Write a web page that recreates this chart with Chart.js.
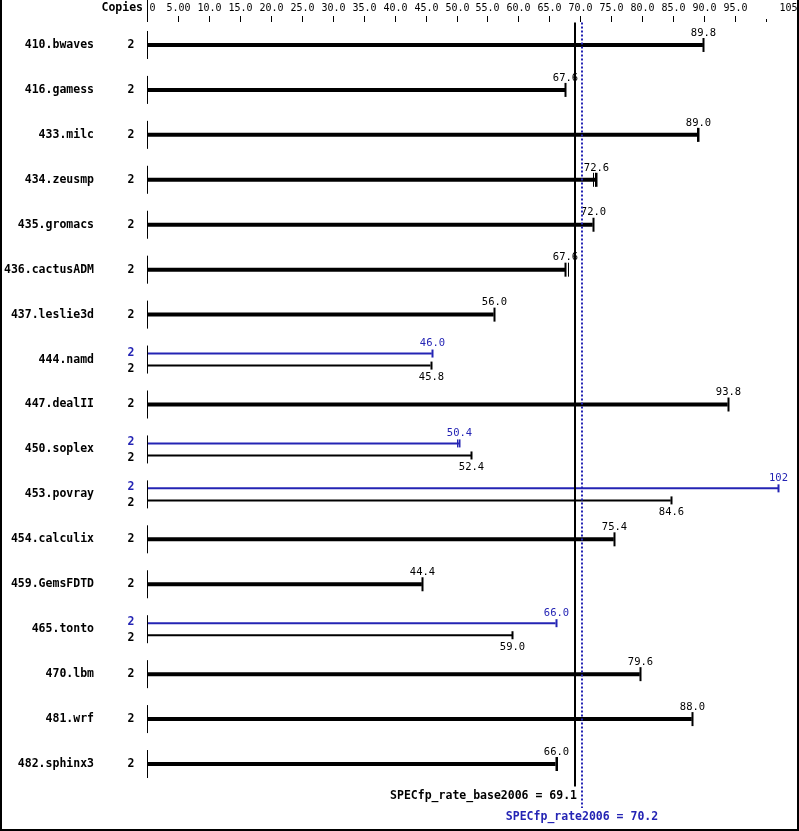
<!DOCTYPE html>
<html>
<head>
<meta charset="utf-8">
<script src="https://cdn.jsdelivr.net/npm/chart.js@4/dist/chart.umd.min.js"></script>
<style>
  html, body { margin: 0; padding: 0; background: #fff; }
  #wrap { position: relative; width: 799px; height: 831px; }
</style>
</head>
<body>
<div id="wrap"><canvas id="specChart" width="799" height="831"></canvas></div>
<script>
const benchmarks = ["410.bwaves", "416.gamess", "433.milc", "434.zeusmp", "435.gromacs",
  "436.cactusADM", "437.leslie3d", "444.namd", "447.dealII", "450.soplex", "453.povray",
  "454.calculix", "459.GemsFDTD", "465.tonto", "470.lbm", "481.wrf", "482.sphinx3"];
const copies = [2, 2, 2, 2, 2, 2, 2, 2, 2, 2, 2, 2, 2, 2, 2, 2, 2];
const baseRatio = [89.8, 67.6, 89.0, 72.6, 72.0, 67.6, 56.0, 45.8, 93.8, 52.4, 84.6,
  75.4, 44.4, 59.0, 79.6, 88.0, 66.0];
// peak only where it differs from base
const peakRatio = [null, null, null, null, null, null, null, 46.0, null, 50.4, 102,
  null, null, 66.0, null, null, null];
// other run results drawn as small marks next to the median
const extraRuns = [[], [], [88.8], [72.0, 72.3], [], [68.0], [], [], [], [50.0], [],
  [], [], [], [], [], [66.3]];
const tickValues = [0, 5, 10, 15, 20, 25, 30, 35, 40, 45, 50, 55, 60, 65, 70, 75, 80,
  85, 90, 95, 100, 105];
const tickLabels = ["0", "5.00", "10.0", "15.0", "20.0", "25.0", "30.0", "35.0", "40.0",
  "45.0", "50.0", "55.0", "60.0", "65.0", "70.0", "75.0", "80.0", "85.0", "90.0", "95.0",
  "", "105"];
const baseMean = 69.1;
const peakMean = 70.2;

const BLUE = "#2424b4";
const MONO = "\"DejaVu Sans Mono\", \"Liberation Mono\", monospace";
const PAIR_OFF = 0.134;

const datasets = [];
benchmarks.forEach((name, i) => {
  const paired = peakRatio[i] !== null;
  if (paired) {
    datasets.push({
      data: [{ x: 0, y: i - PAIR_OFF }, { x: peakRatio[i], y: i - PAIR_OFF }],
      borderColor: BLUE, borderWidth: 2
    });
    datasets.push({
      data: [{ x: 0, y: i + PAIR_OFF }, { x: baseRatio[i], y: i + PAIR_OFF }],
      borderColor: "#000", borderWidth: 2
    });
  } else {
    datasets.push({
      data: [{ x: 0, y: i }, { x: baseRatio[i], y: i }],
      borderColor: "#000", borderWidth: 4
    });
  }
});
datasets.forEach(d => {
  d.showLine = true;
  d.pointRadius = 0;
  d.borderCapStyle = "butt";
  d.fill = false;
});

const decorations = {
  id: "decorations",
  afterDatasetsDraw(chart) {
    const ctx = chart.ctx;
    const xs = chart.scales.x;
    const ys = chart.scales.y;
    const x0 = xs.getPixelForValue(0);
    const px = v => Math.round(xs.getPixelForValue(v)) + 0.5;
    ctx.save();
    ctx.textBaseline = "middle";

    // top axis
    ctx.fillStyle = "#000";
    ctx.strokeStyle = "#000";
    ctx.lineWidth = 1;
    ctx.beginPath();
    ctx.moveTo(Math.round(x0) + 0.5, 0);
    ctx.lineTo(Math.round(x0) + 0.5, 22);
    ctx.stroke();
    ctx.font = "10px " + MONO;
    tickValues.forEach((v, k) => {
      const x = px(v);
      if (v > 0) {
        ctx.beginPath();
        ctx.moveTo(x, v === 100 ? 19 : 16);
        ctx.lineTo(x, 22);
        ctx.stroke();
      }
      if (!tickLabels[k]) return;
      if (k === 0) { ctx.textAlign = "left"; ctx.fillText(tickLabels[k], x + 2, 8); }
      else if (k === tickValues.length - 1) { ctx.textAlign = "right"; ctx.fillText(tickLabels[k], x, 8); }
      else { ctx.textAlign = "center"; ctx.fillText(tickLabels[k], x, 8); }
    });
    ctx.font = "bold 11.5px " + MONO;
    ctx.textAlign = "right";
    ctx.fillText("Copies", 143, 8);

    benchmarks.forEach((name, i) => {
      const yc = ys.getPixelForValue(i);
      const paired = peakRatio[i] !== null;
      // row names and stub line
      ctx.fillStyle = "#000";
      ctx.strokeStyle = "#000";
      ctx.font = "bold 11.5px " + MONO;
      ctx.textAlign = "right";
      ctx.fillText(name, 94, yc);
      ctx.lineWidth = 1;
      ctx.beginPath();
      ctx.moveTo(Math.round(x0) + 0.5, yc - 14);
      ctx.lineTo(Math.round(x0) + 0.5, yc + 14);
      ctx.stroke();
      ctx.textAlign = "center";
      ctx.font = "10.5px " + MONO;

      if (paired) {
        const yp = ys.getPixelForValue(i - PAIR_OFF);
        const yb = ys.getPixelForValue(i + PAIR_OFF);
        ctx.font = "bold 11.5px " + MONO;
        ctx.fillStyle = BLUE;
        ctx.fillText(String(copies[i]), 131, yp - 1);
        ctx.fillStyle = "#000";
        ctx.fillText(String(copies[i]), 131, yb + 3);
        // caps
        ctx.strokeStyle = BLUE;
        ctx.lineWidth = 2;
        ctx.beginPath();
        ctx.moveTo(px(peakRatio[i]), yp - 4);
        ctx.lineTo(px(peakRatio[i]), yp + 4);
        ctx.stroke();
        ctx.strokeStyle = "#000";
        ctx.beginPath();
        ctx.moveTo(px(baseRatio[i]), yb - 4);
        ctx.lineTo(px(baseRatio[i]), yb + 4);
        ctx.stroke();
        ctx.lineWidth = 1;
        ctx.strokeStyle = BLUE;
        extraRuns[i].forEach(r => {
          ctx.beginPath();
          ctx.moveTo(px(r), yp - 4);
          ctx.lineTo(px(r), yp + 4);
          ctx.stroke();
        });
        ctx.font = "10.5px " + MONO;
        ctx.fillStyle = BLUE;
        const pv = peakRatio[i] >= 100 ? peakRatio[i].toFixed(0) : peakRatio[i].toFixed(1);
        ctx.fillText(pv, px(peakRatio[i]), yp - 10);
        ctx.fillStyle = "#000";
        ctx.fillText(baseRatio[i].toFixed(1), px(baseRatio[i]), yb + 12);
      } else {
        ctx.font = "bold 11.5px " + MONO;
        ctx.fillText(String(copies[i]), 131, yc);
        ctx.lineWidth = 2;
        ctx.beginPath();
        ctx.moveTo(px(baseRatio[i]), yc - 7);
        ctx.lineTo(px(baseRatio[i]), yc + 7);
        ctx.stroke();
        ctx.lineWidth = 1;
        extraRuns[i].forEach(r => {
          ctx.beginPath();
          ctx.moveTo(px(r), yc - 7);
          ctx.lineTo(px(r), yc + 7);
          ctx.stroke();
        });
        ctx.font = "10.5px " + MONO;
        ctx.fillText(baseRatio[i].toFixed(1), px(baseRatio[i]), yc - 12);
      }
    });

    // mean lines
    const top = chart.chartArea.top;
    ctx.strokeStyle = "#000";
    ctx.lineWidth = 2;
    ctx.beginPath();
    ctx.moveTo(Math.round(xs.getPixelForValue(baseMean)), top);
    ctx.lineTo(Math.round(xs.getPixelForValue(baseMean)), chart.chartArea.bottom);
    ctx.stroke();
    ctx.strokeStyle = BLUE;
    ctx.setLineDash([2, 2]);
    ctx.beginPath();
    ctx.moveTo(Math.round(xs.getPixelForValue(peakMean)), top);
    ctx.lineTo(Math.round(xs.getPixelForValue(peakMean)), 808);
    ctx.stroke();
    ctx.setLineDash([]);

    ctx.font = "bold 11.5px " + MONO;
    ctx.fillStyle = "#000";
    ctx.textAlign = "right";
    ctx.fillText("SPECfp_rate_base2006 = " + baseMean.toFixed(1),
      Math.round(xs.getPixelForValue(baseMean)) + 2, 796);
    ctx.fillStyle = BLUE;
    ctx.textAlign = "center";
    ctx.fillText("SPECfp_rate2006 = " + peakMean.toFixed(1),
      Math.round(xs.getPixelForValue(peakMean)), 817);

    // frame
    ctx.strokeStyle = "#000";
    ctx.lineWidth = 2;
    ctx.beginPath();
    ctx.moveTo(1, 0);
    ctx.lineTo(1, 830);
    ctx.lineTo(798, 830);
    ctx.lineTo(798, 0);
    ctx.stroke();
    ctx.restore();
  }
};

new Chart(document.getElementById("specChart"), {
  type: "scatter",
  data: { datasets },
  options: {
    responsive: false,
    animation: false,
    layout: { padding: { left: 147, right: 2, top: 22.5, bottom: 44.5 } },
    plugins: { legend: { display: false }, tooltip: { enabled: false } },
    scales: {
      x: { type: "linear", min: 0, max: 105, display: false },
      y: { type: "linear", min: -0.5, max: 16.5, reverse: true, display: false }
    }
  },
  plugins: [decorations]
});
</script>
</body>
</html>
